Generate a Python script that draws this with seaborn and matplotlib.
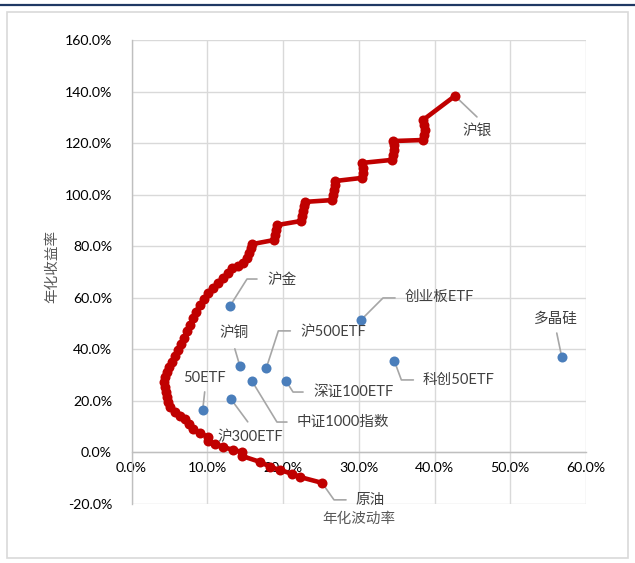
import matplotlib
matplotlib.use("Agg")
import matplotlib.pyplot as plt
import matplotlib.transforms as mtransforms
from matplotlib.patches import Rectangle
from matplotlib.lines import Line2D
from matplotlib.ticker import PercentFormatter
import pandas as pd
import seaborn as sns

# Efficient frontier: annualised volatility (%) and annualised return (%)
frontier_vol = [25.15, 22.2, 21.2, 19.6, 18.3, 17.0, 14.6, 14.6, 13.4, 12.1,
                11.0, 10.1, 10.1, 9.0, 8.1, 7.6, 7.1, 6.4, 5.7, 5.1,
                4.8, 4.7, 4.6, 4.4, 4.3, 4.4, 4.7, 4.9, 5.3, 5.7,
                6.1, 6.5, 6.9, 7.3, 7.7, 8.1, 8.5, 9.0, 9.6, 10.1,
                10.8, 11.4, 12.1, 12.7, 13.3, 14.1, 14.7, 15.2, 15.5, 15.8,
                15.9, 18.8, 18.9, 19.1, 19.2, 22.4, 22.5, 22.6, 22.8, 22.9,
                26.5, 26.6, 26.7, 26.9, 26.9, 30.4, 30.6, 30.6, 30.4, 34.4,
                34.5, 34.7, 34.7, 34.5, 38.5, 38.6, 38.7, 38.6, 38.5, 42.7]
frontier_ret = [-11.8, -9.5, -8.3, -6.8, -5.6, -3.7, -1.4, 0.2, 1.0, 2.1,
                3.3, 4.5, 6.0, 7.6, 9.1, 11.1, 13.0, 14.2, 15.7, 17.7,
                19.6, 21.5, 23.5, 25.4, 27.3, 29.3, 31.2, 33.2, 35.1, 37.4,
                39.8, 42.1, 44.4, 47.1, 49.5, 52.2, 54.5, 57.2, 59.5, 61.9,
                63.8, 65.7, 67.7, 69.6, 71.6, 72.4, 73.5, 75.4, 77.4, 79.3,
                80.8, 82.4, 84.4, 86.3, 88.2, 89.8, 91.7, 93.7, 95.6, 97.2,
                97.9, 99.9, 101.8, 103.8, 105.3, 106.5, 108.4, 110.4, 112.3, 113.5,
                115.4, 117.3, 119.3, 120.8, 121.2, 123.2, 125.1, 127.0, 129.0, 138.3]

# Individual assets
asset_names = ["沪金", "沪铜", "沪500ETF", "中证1000指数", "深证100ETF",
               "50ETF", "沪300ETF", "创业板ETF", "科创50ETF", "多晶硅"]
asset_vol = [13.0, 14.3, 17.8, 15.9, 20.4, 9.4, 13.1, 30.3, 34.7, 56.8]
asset_ret = [56.8, 33.6, 32.8, 27.7, 27.7, 16.5, 20.8, 51.4, 35.5, 37.0]

x_ticks = [0, 10, 20, 30, 40, 50, 60]
y_ticks = [-20, 0, 20, 40, 60, 80, 100, 120, 140, 160]

FONT = ["Lato", "Noto Sans CJK SC", "DejaVu Sans"]
sns.set_theme(style="white")
plt.rcParams["font.family"] = FONT
plt.rcParams["axes.unicode_minus"] = False

W, H = 635, 563
fig = plt.figure(figsize=(W / 100, H / 100), dpi=100)

# Outer frame and top rule
fig.add_artist(Line2D([0, 1], [1 - 5 / H, 1 - 5 / H], transform=fig.transFigure,
                      color="#1f3864", lw=1.6))
fig.add_artist(Rectangle((7 / W, 1 - 558 / H), (628 - 7) / W, (558 - 12) / H,
                         transform=fig.transFigure, fill=False,
                         edgecolor="#d9d9d9", lw=1.2))

left, right, top, bottom = 131.5, 586, 40, 504
ax = fig.add_axes([left / W, 1 - bottom / H, (right - left) / W, (bottom - top) / H])

frontier = pd.DataFrame({"vol": frontier_vol, "ret": frontier_ret})
assets = pd.DataFrame({"name": asset_names, "vol": asset_vol, "ret": asset_ret})

sns.lineplot(data=frontier, x="vol", y="ret", sort=False, estimator=None,
             errorbar=None, ax=ax, color="#c00000", lw=3.3, marker="o",
             markersize=7.2, markeredgewidth=0, zorder=3)
sns.scatterplot(data=assets, x="vol", y="ret", ax=ax, color="#4a7ebb",
                s=52, linewidth=0, zorder=4)

ax.set_xlim(0, 60)
ax.set_ylim(-20, 160)
ax.set_xticks(x_ticks)
ax.set_yticks(y_ticks)
ax.xaxis.set_major_formatter(PercentFormatter(decimals=1))
ax.yaxis.set_major_formatter(PercentFormatter(decimals=1))
ax.grid(True, color="#d9d9d9", lw=1.0, zorder=0)
ax.set_axisbelow(True)
for s in ["top", "right"]:
    ax.spines[s].set_visible(False)
ax.spines["left"].set_color("#bfbfbf")
ax.spines["bottom"].set_color("#bfbfbf")
ax.spines["bottom"].set_position(("data", 0))
ax.spines["left"].set_linewidth(1.0)
ax.spines["bottom"].set_linewidth(1.0)
ax.tick_params(axis="both", length=0, labelsize=10.2, labelcolor="#000000")
ax.tick_params(axis="x", pad=7)
ax.tick_params(axis="y", pad=14)
ax.set_xlabel("")
ax.set_ylabel("")
for lab in ax.get_xticklabels() + ax.get_yticklabels():
    lab.set_family(FONT)

fig.text(359 / W, 1 - 519 / H, "年化波动率", ha="center", va="center",
         fontsize=10.5, color="#595959", family=FONT)
fig.text(52 / W, 1 - 266 / H, "年化收益率", ha="center", va="center",
         rotation=90, fontsize=10.5, color="#595959", family=FONT)

# Callouts: leader vertices and text anchor as pixel offsets (y down)
callouts = {
    "沪金": ([(0, 0), (17, -27), (27, -27)], (37, -26), "left"),
    "沪铜": ([(0, 0), (-5, -17)], (-6, -33), "center"),
    "沪500ETF": ([(0, 0), (12, -37), (24, -37)], (34, -36), "left"),
    "中证1000指数": ([(0, 0), (25, 41), (35, 41)], (45, 41), "left"),
    "深证100ETF": ([(0, 0), (7, 11), (17, 11)], (27, 11), "left"),
    "50ETF": ([(0, 0), (2, -18)], (2, -32), "center"),
    "沪300ETF": ([(0, 0), (17, 23)], (-13, 38), "left"),
    "创业板ETF": ([(0, 0), (22, -22), (34, -22)], (44, -23), "left"),
    "科创50ETF": ([(0, 0), (7, 19), (19, 19)], (28, 19), "left"),
    "多晶硅": ([(0, 0), (-5, -24)], (-6, -38), "center"),
}
end_callouts = [
    ("原油", frontier_vol[0], frontier_ret[0], [(0, 0), (12, 17), (24, 17)], (33, 17), "left"),
    ("沪银", frontier_vol[-1], frontier_ret[-1], [(0, 0), (22, 21)], (7, 35), "left"),
]

items = [(n, v, r, *callouts[n]) for n, v, r in zip(asset_names, asset_vol, asset_ret)]
items += end_callouts

for name, vx, vy, verts, (tx, ty), ha in items:
    tr = mtransforms.Affine2D().scale(1, -1) + mtransforms.ScaledTranslation(vx, vy, ax.transData)
    xs = [p[0] for p in verts]
    ys = [p[1] for p in verts]
    ax.add_line(Line2D(xs, ys, transform=tr, color="#a6a6a6", lw=1.2, zorder=2))
    ax.annotate(name, xy=(vx, vy), xytext=(tx * 0.72, -ty * 0.72),
                textcoords="offset points", ha=ha, va="center",
                fontsize=10.5, color="#404040", family=FONT, zorder=5,
                annotation_clip=False)

fig.savefig("out.png", dpi=100)
